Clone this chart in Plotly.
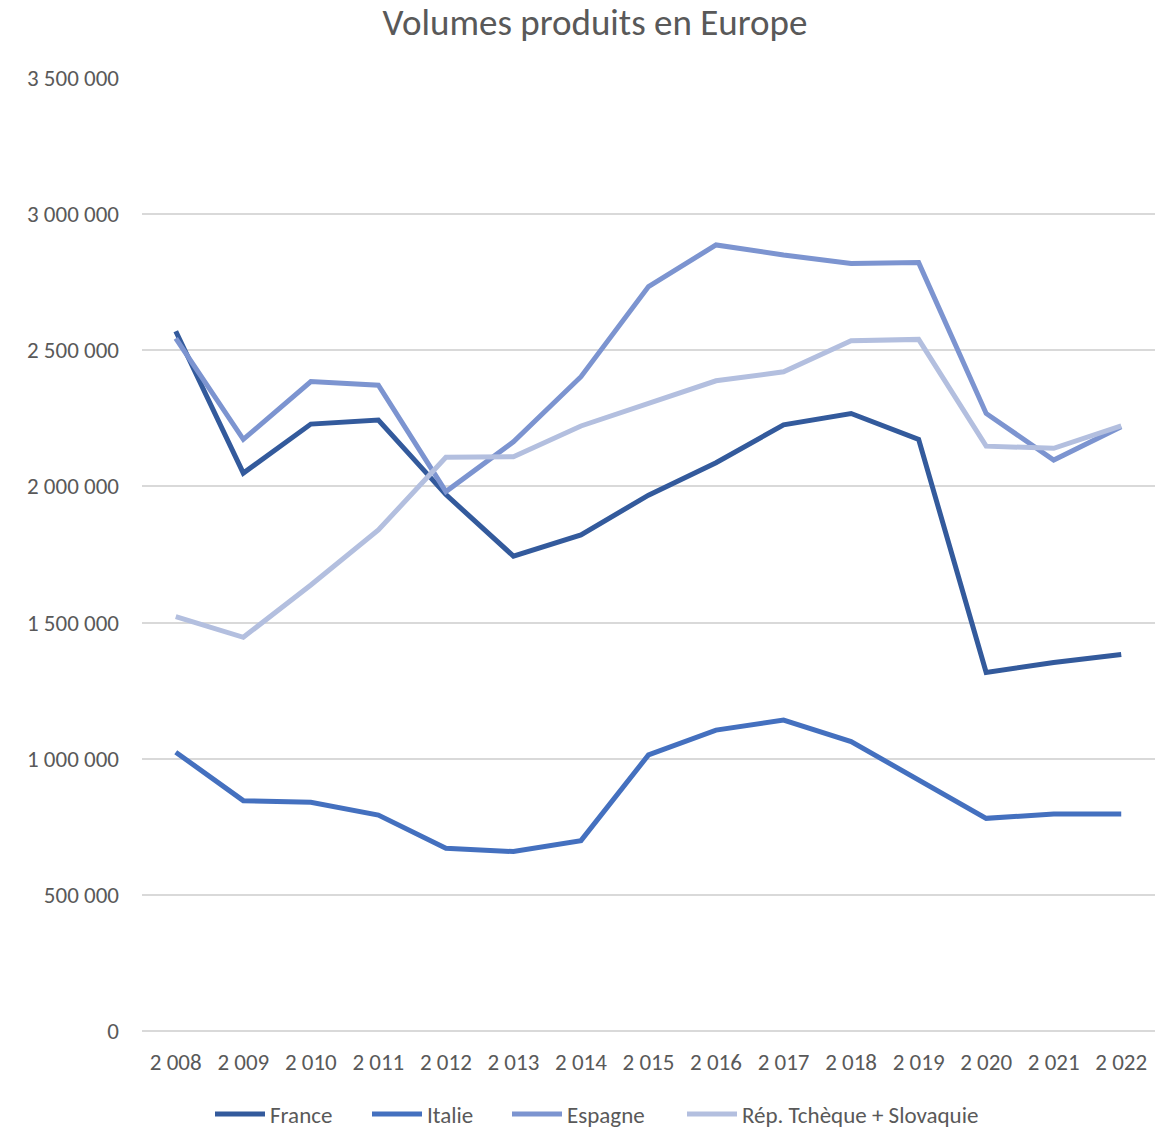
import plotly.graph_objects as go

# Annual production volumes by country
years = [2008, 2009, 2010, 2011, 2012, 2013, 2014, 2015, 2016, 2017, 2018, 2019, 2020, 2021, 2022]
year_labels = ["2 008", "2 009", "2 010", "2 011", "2 012", "2 013", "2 014", "2 015",
               "2 016", "2 017", "2 018", "2 019", "2 020", "2 021", "2 022"]

france = [2570000, 2049000, 2229000, 2244000, 1970000, 1744000, 1822000, 1968000,
          2087000, 2226000, 2268000, 2173000, 1317000, 1353000, 1383000]
italie = [1024000, 846000, 840000, 793000, 671000, 659000, 699000, 1014000,
          1105000, 1142000, 1063000, 922000, 781000, 797000, 797000]
espagne = [2544000, 2173000, 2385000, 2372000, 1981000, 2164000, 2403000, 2734000,
           2887000, 2850000, 2819000, 2822000, 2268000, 2097000, 2219000]
rep_tch_slov = [1522000, 1446000, 1638000, 1840000, 2107000, 2109000, 2222000, 2307000,
                2388000, 2421000, 2535000, 2540000, 2148000, 2140000, 2222000]

series = [
    ("France", france, "#335A9C"),
    ("Italie", italie, "#4470BF"),
    ("Espagne", espagne, "#7C94D0"),
    ("Rép. Tchèque + Slovaquie", rep_tch_slov, "#B3BFDF"),
]

FONT = "Calibri, Carlito, Lato, sans-serif"
TEXT = "#595959"

# one legend box per series so each entry sits at its own position
legend_ids = ["legend", "legend2", "legend3", "legend4"]
legend_left = [210, 367, 507, 682]

fig = go.Figure()
for (name, values, color), lid in zip(series, legend_ids):
    fig.add_trace(go.Scatter(
        x=year_labels, y=values, name=name, mode="lines",
        line=dict(color=color, width=5), legend=lid,
    ))

legend_style = dict(orientation="h", xanchor="left", xref="container",
                    y=14 / 1128, yanchor="middle", yref="container",
                    font=dict(family=FONT, size=23, color=TEXT),
                    itemwidth=50, bgcolor="rgba(0,0,0,0)")

fig.update_layout(
    width=1174, height=1128,
    margin=dict(l=142, r=19, t=78, b=97),
    paper_bgcolor="white", plot_bgcolor="white",
    separators=", ",
    font=dict(family=FONT, color=TEXT, size=23),
    title=dict(text="Volumes produits en Europe", x=595 / 1174, xanchor="center",
               xref="container", y=1 - 22 / 1128, yanchor="middle",
               font=dict(family=FONT, size=37, color=TEXT)),
    xaxis=dict(type="category", range=[-0.5, 14.5], showgrid=False,
               showline=False, zeroline=False, ticks="",
               ticklabelstandoff=15,
               tickfont=dict(family=FONT, size=23, color=TEXT)),
    yaxis=dict(range=[0, 3500000], dtick=500000, tickformat=",d",
               showgrid=True, gridcolor="#D9D9D9", gridwidth=1.5,
               zeroline=True, zerolinecolor="#D9D9D9", zerolinewidth=1.5,
               showline=False, ticks="", ticklabelstandoff=22,
               tickfont=dict(family=FONT, size=23, color=TEXT)),
    showlegend=True,
)
for lid, left in zip(legend_ids, legend_left):
    fig.update_layout({lid: dict(legend_style, x=left / 1174)})

fig.write_html("out.html")
